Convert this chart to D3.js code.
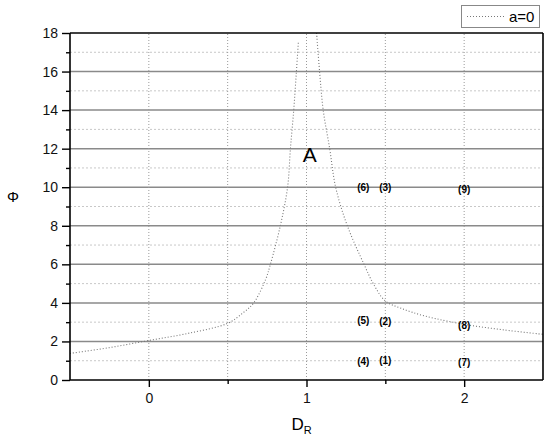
<!DOCTYPE html>
<html>
<head>
<script src="https://d3js.org/d3.v7.min.js"></script>
<style>
  body { margin: 0; background: #fff; }
  text { font-family: "Liberation Sans", Arial, sans-serif; }
</style>
</head>
<body>
<div id="chart"></div>
<script>
// curve a=0, two branches either side of D_R = 1
const leftD   = [-0.5, -0.25, 0, 0.25, 0.5, 0.6, 0.665, 0.74, 0.771, 0.834, 0.88, 0.898, 0.919, 0.936, 0.949];
const leftPhi = [1.38, 1.68, 2.05, 2.42, 2.94, 3.5, 4.0, 5.2, 6.0, 8.0, 10.0, 12.0, 14.0, 16.0, 17.6];
const rightD   = [1.064, 1.083, 1.106, 1.147, 1.185, 1.259, 1.365, 1.43, 1.5, 1.6, 1.75, 2.0, 2.25, 2.5];
const rightPhi = [18.0, 16.0, 14.0, 12.0, 10.0, 8.0, 6.0, 4.9, 4.1, 3.72, 3.32, 2.89, 2.6, 2.37];

// numbered points
const ptLabels = ["(1)", "(2)", "(3)", "(4)", "(5)", "(6)", "(7)", "(8)", "(9)"];
const ptD      = [1.5, 1.5, 1.5, 1.36, 1.36, 1.36, 2.0, 2.0, 2.0];
const ptPhi    = [1.0, 3.02, 10.0, 0.95, 3.08, 10.0, 0.9, 2.85, 9.9];

const xTicks = [0, 1, 2];
const xMinor = [0.5, 1.5];
const yTicks = [0, 2, 4, 6, 8, 10, 12, 14, 16, 18];
const yMinor = [1, 3, 5, 7, 9, 11, 13, 15, 17];

const width = 550, height = 442;
const margin = {top: 33, right: 7, bottom: 62, left: 70};

const svg = d3.select("#chart").append("svg")
    .attr("width", width).attr("height", height);

const x = d3.scaleLinear().domain([-0.5, 2.5]).range([margin.left, width - margin.right]);
const y = d3.scaleLinear().domain([0, 18]).range([height - margin.bottom, margin.top]);

// grid
svg.append("g").selectAll("line").data(yMinor).enter().append("line")
    .attr("x1", x(-0.5)).attr("x2", x(2.5))
    .attr("y1", d => y(d)).attr("y2", d => y(d))
    .attr("stroke", "#c8c8c8").attr("stroke-width", 1).attr("stroke-dasharray", "2,2");
svg.append("g").selectAll("line").data(yTicks.filter(d => d > 0 && d < 18)).enter().append("line")
    .attr("x1", x(-0.5)).attr("x2", x(2.5))
    .attr("y1", d => y(d)).attr("y2", d => y(d))
    .attr("stroke", "#8a8a8a").attr("stroke-width", 1.5);
svg.append("g").selectAll("line").data(xTicks.concat(xMinor)).enter().append("line")
    .attr("x1", d => x(d)).attr("x2", d => x(d))
    .attr("y1", y(0)).attr("y2", y(18))
    .attr("stroke", "#9a9a9a").attr("stroke-width", 1).attr("stroke-dasharray", "1,2");

// curve
const line = d3.line().x(d => x(d[0])).y(d => y(d[1])).curve(d3.curveCatmullRom.alpha(0.5));
const branches = [d3.zip(leftD, leftPhi), d3.zip(rightD, rightPhi)];
svg.append("g").selectAll("path").data(branches).enter().append("path")
    .attr("d", line)
    .attr("fill", "none").attr("stroke", "#777").attr("stroke-width", 1.1)
    .attr("stroke-dasharray", "1,2");

// axes
const xAxis = svg.append("g").attr("transform", `translate(0,${y(0)})`)
    .call(d3.axisBottom(x).tickValues(xTicks).tickFormat(d3.format("d")).tickSize(7).tickPadding(6));
svg.append("g").attr("transform", `translate(0,${y(0)})`)
    .call(d3.axisBottom(x).tickValues(xMinor).tickFormat("").tickSize(4))
    .select(".domain").remove();
const yAxis = svg.append("g").attr("transform", `translate(${x(-0.5)},0)`)
    .call(d3.axisLeft(y).tickValues(yTicks).tickSize(8).tickPadding(4));
svg.append("g").attr("transform", `translate(${x(-0.5)},0)`)
    .call(d3.axisLeft(y).tickValues(yMinor).tickFormat("").tickSize(4))
    .select(".domain").remove();
svg.selectAll(".domain").attr("stroke-width", 1.6);
svg.selectAll(".tick line").attr("stroke-width", 1.4);
svg.selectAll(".tick text").attr("font-size", 14).attr("fill", "#111")
    .attr("font-family", "'Liberation Sans', Arial, sans-serif");
xAxis.selectAll(".domain").attr("d", `M${x(-0.5)},0H${x(2.5)}`);
yAxis.selectAll(".domain").attr("d", `M0,${y(0)}V${y(18)}`);

// frame top / right
svg.append("line").attr("x1", x(-0.5)).attr("x2", x(2.5)).attr("y1", y(18)).attr("y2", y(18))
    .attr("stroke", "#000").attr("stroke-width", 1.6);
svg.append("line").attr("x1", x(2.5)).attr("x2", x(2.5)).attr("y1", y(18)).attr("y2", y(0))
    .attr("stroke", "#000").attr("stroke-width", 1.6);

// axis titles
const xt = svg.append("text").attr("x", x(1) - 5).attr("y", 430)
    .attr("font-size", 17).attr("text-anchor", "middle").text("D");
xt.append("tspan").attr("font-size", 11).attr("dy", 4).text("R");
svg.append("text").attr("x", 13).attr("y", y(9.5)).attr("dy", "0.35em")
    .attr("font-size", 15).attr("text-anchor", "middle").text("Φ");

// annotations
svg.append("text").attr("x", x(1.02)).attr("y", y(11.3))
    .attr("font-size", 21).attr("text-anchor", "middle").text("A");
svg.append("g").selectAll("text").data(ptLabels).enter().append("text")
    .attr("x", (d, i) => x(ptD[i])).attr("y", (d, i) => y(ptPhi[i]))
    .attr("dy", "0.35em").attr("text-anchor", "middle")
    .attr("font-size", 10).attr("font-weight", "bold").text(d => d);

// legend
const lg = svg.append("g");
lg.append("rect").attr("x", 461.5).attr("y", 5.5).attr("width", 78).attr("height", 22)
    .attr("fill", "#fff").attr("stroke", "#888").attr("stroke-width", 1);
lg.append("line").attr("x1", 467).attr("x2", 505).attr("y1", 16.5).attr("y2", 16.5)
    .attr("stroke", "#777").attr("stroke-width", 1.1).attr("stroke-dasharray", "1,2");
lg.append("text").attr("x", 509).attr("y", 21.5).attr("font-size", 15).text("a=0");
</script>
</body>
</html>
